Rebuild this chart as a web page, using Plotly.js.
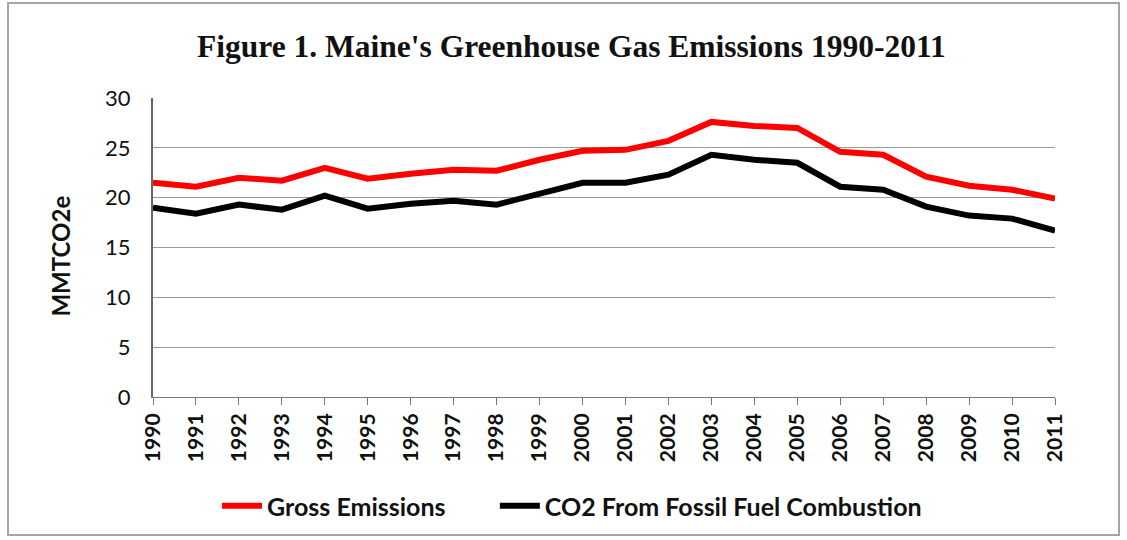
<!DOCTYPE html>
<html>
<head>
<meta charset="utf-8">
<script src="https://cdn.plot.ly/plotly-3.0.1.min.js"></script>
<style>
  html, body { margin: 0; padding: 0; background: #fff; }
  #wrap { position: relative; width: 1127px; height: 540px; }
  #chart { width: 1127px; height: 540px; }
  #frame { position: absolute; left: 7px; top: 2px; width: 1113px; height: 534px;
           border: 2px solid #a6a6a6; pointer-events: none; box-sizing: border-box; }
</style>
</head>
<body>
<div id="wrap">
  <div id="chart"></div>
  <div id="frame"></div>
</div>
<script>
const years = ["1990","1991","1992","1993","1994","1995","1996","1997","1998","1999","2000",
               "2001","2002","2003","2004","2005","2006","2007","2008","2009","2010","2011"];
const grossEmissions = [21.5, 21.1, 22.0, 21.7, 23.0, 21.9, 22.4, 22.8, 22.7, 23.8, 24.7,
                        24.8, 25.7, 27.6, 27.2, 27.0, 24.6, 24.3, 22.1, 21.2, 20.8, 19.9];
const co2FossilFuel = [19.0, 18.4, 19.3, 18.8, 20.2, 18.9, 19.4, 19.7, 19.3, 20.4, 21.5,
                       21.5, 22.3, 24.3, 23.8, 23.5, 21.1, 20.8, 19.1, 18.2, 17.9, 16.7];
const seriesNames = ["Gross Emissions", "CO2 From Fossil Fuel Combustion"];
const yTicks = [0, 5, 10, 15, 20, 25, 30];
const yTitle = "MMTCO2e";

const traces = [
  { x: years, y: grossEmissions, name: seriesNames[0], type: "scatter", mode: "lines",
    line: { color: "#ff0000", width: 6 }, legend: "legend" },
  { x: years, y: co2FossilFuel, name: seriesNames[1], type: "scatter", mode: "lines",
    line: { color: "#000000", width: 6 }, legend: "legend2" }
];

const legendFont = { family: "Lato, sans-serif", size: 25, color: "#111", weight: "bold" };

const layout = {
  width: 1127, height: 540,
  margin: { l: 153, r: 72, t: 98, b: 142 },
  paper_bgcolor: "#ffffff", plot_bgcolor: "#ffffff",
  showlegend: true,
  title: {
    text: "Figure 1. Maine's Greenhouse Gas Emissions 1990-2011",
    font: { family: "Liberation Serif, serif", size: 31.5, color: "#111", weight: "bold" },
    x: 0.507, xanchor: "center", y: 0.915, yanchor: "middle"
  },
  xaxis: {
    type: "category",
    range: [0, years.length - 1],
    tickangle: -90,
    tickfont: { family: "Lato, sans-serif", size: 21, color: "#111", weight: "bold" },
    ticks: "outside", ticklen: 7, tickcolor: "#777", tickwidth: 1,
    showline: true, linecolor: "#777", linewidth: 1,
    showgrid: false, zeroline: false
  },
  yaxis: {
    range: [0, 30],
    tickvals: yTicks,
    ticktext: yTicks.map(String),
    tickfont: { family: "Lato, sans-serif", size: 22, color: "#111" },
    ticks: "", ticklabelstandoff: 16,
    showline: true, linecolor: "#666", linewidth: 2,
    showgrid: true, gridcolor: "#9a9a9a", gridwidth: 1,
    zeroline: false
  },
  annotations: [{
    text: yTitle, xref: "paper", yref: "paper",
    x: -0.103, y: 0.47, xanchor: "center", yanchor: "middle",
    textangle: -90, showarrow: false,
    font: { family: "Lato, sans-serif", size: 24, color: "#111", weight: "bold" }
  }],
  legend: {
    orientation: "h", x: 0.071, xanchor: "left", y: -0.36, yanchor: "middle",
    font: legendFont, itemwidth: 40, bgcolor: "rgba(0,0,0,0)"
  },
  legend2: {
    orientation: "h", x: 0.379, xanchor: "left", y: -0.36, yanchor: "middle",
    font: legendFont, itemwidth: 40, bgcolor: "rgba(0,0,0,0)"
  }
};

Plotly.newPlot("chart", traces, layout, { displayModeBar: false, staticPlot: true });
</script>
</body>
</html>
